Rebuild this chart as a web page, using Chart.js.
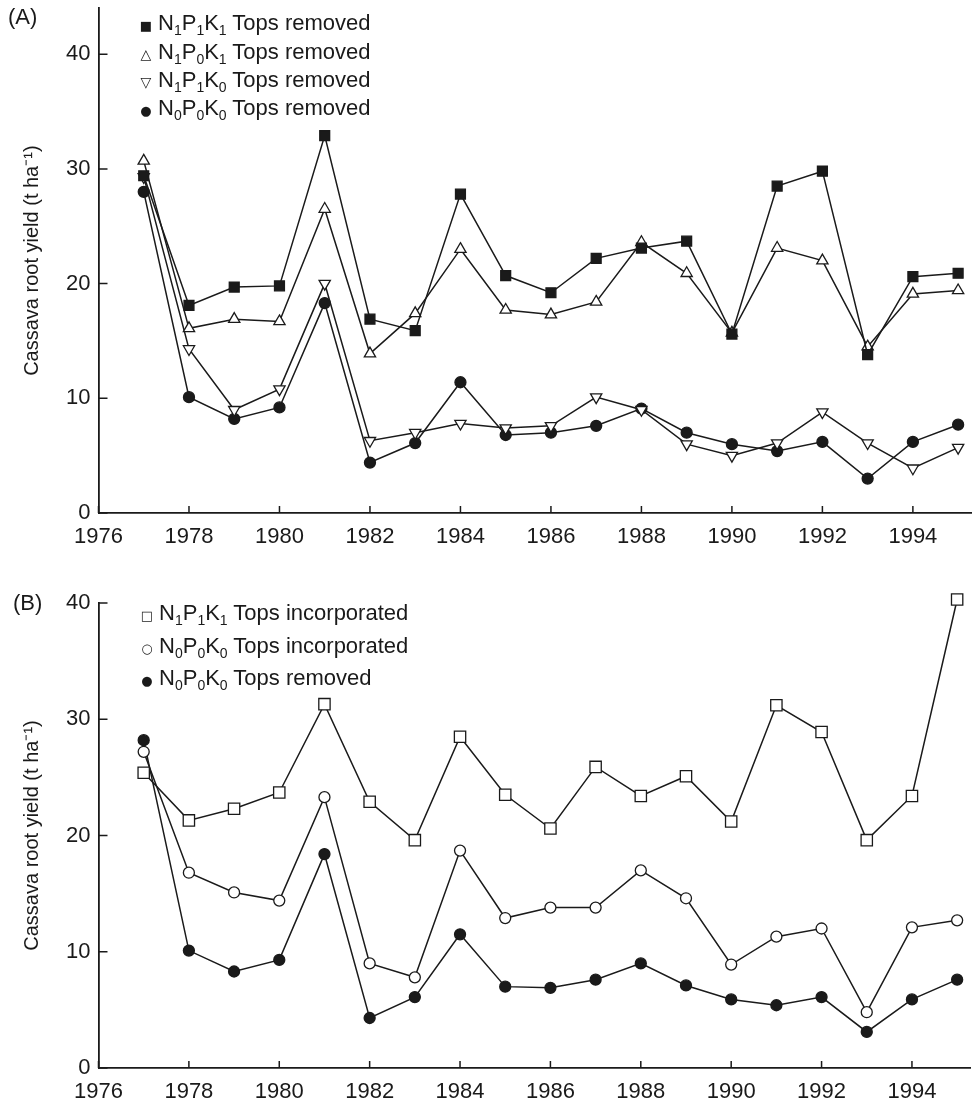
<!DOCTYPE html>
<html>
<head>
<meta charset="utf-8">
<script src="https://cdn.jsdelivr.net/npm/chart.js@4.4.1/dist/chart.umd.min.js"></script>
<style>
  html, body { margin: 0; padding: 0; background: #fff; }
  body { width: 980px; height: 1101px; position: relative; overflow: hidden;
         font-family: "Liberation Sans", Arial, sans-serif; color: #1a1a1a; }
  canvas { position: absolute; left: 0; }
  #chartA { top: 0; }
  #chartB { top: 560px; }
  .tag { position: absolute; font-size: 22px; line-height: 22px; }
  .row { position: absolute; font-size: 22px; line-height: 26px; white-space: nowrap; }
  .row .mk { display: inline-block; width: 16px; text-align: center; font-family: "DejaVu Sans"; margin-right: 4px; }
  .row sub { font-size: 14px; vertical-align: -5px; line-height: 0; }
</style>
</head>
<body>

<canvas id="chartA" width="980" height="560"></canvas>
<canvas id="chartB" width="980" height="541"></canvas>

<div class="tag" style="left:8px; top:6px;">(A)</div>
<div class="tag" style="left:13px; top:592px;">(B)</div>

<div class="row" style="left:138px; top:10px;"><span class="mk" style="font-size:13px;">■</span>N<sub>1</sub>P<sub>1</sub>K<sub>1</sub> Tops removed</div>
<div class="row" style="left:138px; top:39px;"><span class="mk" style="font-size:14px;">△</span>N<sub>1</sub>P<sub>0</sub>K<sub>1</sub> Tops removed</div>
<div class="row" style="left:138px; top:67px;"><span class="mk" style="font-size:14px;">▽</span>N<sub>1</sub>P<sub>1</sub>K<sub>0</sub> Tops removed</div>
<div class="row" style="left:138px; top:95px;"><span class="mk" style="font-size:13px;">●</span>N<sub>0</sub>P<sub>0</sub>K<sub>0</sub> Tops removed</div>

<div class="row" style="left:139px; top:600px;"><span class="mk" style="font-size:13px;">□</span>N<sub>1</sub>P<sub>1</sub>K<sub>1</sub> Tops incorporated</div>
<div class="row" style="left:139px; top:633px;"><span class="mk" style="font-size:13px;">○</span>N<sub>0</sub>P<sub>0</sub>K<sub>0</sub> Tops incorporated</div>
<div class="row" style="left:139px; top:665px;"><span class="mk" style="font-size:13px;">●</span>N<sub>0</sub>P<sub>0</sub>K<sub>0</sub> Tops removed</div>

<script>
// ---- data (t/ha) ----
const years = [1977, 1978, 1979, 1980, 1981, 1982, 1983, 1984, 1985, 1986,
               1987, 1988, 1989, 1990, 1991, 1992, 1993, 1994, 1995];
const yearTicks = [1976, 1978, 1980, 1982, 1984, 1986, 1988, 1990, 1992, 1994];
const yieldTicks = [0, 10, 20, 30, 40];

// panel A: tops removed
const npkRemoved   = [29.4, 18.1, 19.7, 19.8, 32.9, 16.9, 15.9, 27.8, 20.7, 19.2,
                      22.2, 23.1, 23.7, 15.6, 28.5, 29.8, 13.8, 20.6, 20.9];
const npk0Removed  = [30.7, 16.1, 16.9, 16.7, 26.5, 13.9, 17.4, 23.0, 17.7, 17.3,
                      18.4, 23.6, 20.9, 15.7, 23.1, 22.0, 14.5, 19.1, 19.4];
const nppk0Removed = [29.3, 14.3, 9.0, 10.8, 20.0, 6.3, 7.0, 7.8, 7.4, 7.6,
                      10.1, 9.0, 6.0, 5.0, 6.1, 8.8, 6.1, 3.9, 5.7];
const controlRemovedA = [28.0, 10.1, 8.2, 9.2, 18.3, 4.4, 6.1, 11.4, 6.8, 7.0,
                         7.6, 9.1, 7.0, 6.0, 5.4, 6.2, 3.0, 6.2, 7.7];

// panel B: tops incorporated vs removed
const npkIncorp     = [25.4, 21.3, 22.3, 23.7, 31.3, 22.9, 19.6, 28.5, 23.5, 20.6,
                       25.9, 23.4, 25.1, 21.2, 31.2, 28.9, 19.6, 23.4, 40.3];
const controlIncorp = [27.2, 16.8, 15.1, 14.4, 23.3, 9.0, 7.8, 18.7, 12.9, 13.8,
                       13.8, 17.0, 14.6, 8.9, 11.3, 12.0, 4.8, 12.1, 12.7];
const controlRemovedB = [28.2, 10.1, 8.3, 9.3, 18.4, 4.3, 6.1, 11.5, 7.0, 6.9,
                         7.6, 9.0, 7.1, 5.9, 5.4, 6.1, 3.1, 5.9, 7.6];

const INK = '#1a1a1a';
const FONT = "'Liberation Sans', Arial, sans-serif";

function points(values) {
    return years.map((yr, i) => ({ x: yr, y: values[i] }));
}

function series(label, values, style) {
    return Object.assign({
        label: label,
        data: points(values),
        borderColor: INK,
        borderWidth: 1.5,
        pointBorderColor: INK,
        pointBorderWidth: 1.3,
        tension: 0,
        clip: false
    }, style);
}

// ticks drawn inward from the axis lines
const inwardTicks = {
    id: 'inwardTicks',
    afterDatasetsDraw(chart) {
        const { ctx, chartArea, scales } = chart;
        ctx.save();
        ctx.strokeStyle = INK;
        ctx.lineWidth = 1.5;
        ctx.beginPath();
        scales.x.ticks.forEach(t => {
            const px = scales.x.getPixelForValue(t.value);
            ctx.moveTo(px, chartArea.bottom);
            ctx.lineTo(px, chartArea.bottom - 7);
        });
        scales.y.ticks.forEach(t => {
            const py = scales.y.getPixelForValue(t.value);
            ctx.moveTo(chartArea.left, py);
            ctx.lineTo(chartArea.left + 9, py);
        });
        ctx.stroke();
        ctx.restore();
    }
};

function makeOptions(yMax, padTop, xHeight) {
    return {
        responsive: false,
        animation: false,
        layout: { padding: { top: padTop, right: 2, left: 0, bottom: 0 } },
        plugins: { legend: { display: false }, tooltip: { enabled: false } },
        scales: {
            x: {
                type: 'linear',
                min: 1976,
                max: 1995.3,
                afterBuildTicks: s => { s.ticks = yearTicks.map(v => ({ value: v })); },
                afterFit: s => { s.height = xHeight; s.paddingLeft = 0; s.paddingRight = 0; },
                ticks: {
                    padding: 11,
                    color: INK,
                    font: { family: FONT, size: 22 },
                    maxRotation: 0,
                    autoSkip: false,
                    callback: v => String(v)
                },
                grid: { drawOnChartArea: false, drawTicks: false },
                border: { color: INK, width: 1.8 }
            },
            y: {
                min: 0,
                max: yMax,
                afterBuildTicks: s => { s.ticks = yieldTicks.map(v => ({ value: v })); },
                afterFit: s => { s.width = 98.5; s.paddingTop = 0; s.paddingBottom = 0; },
                ticks: {
                    padding: 8,
                    color: INK,
                    font: { family: FONT, size: 22 }
                },
                grid: { drawOnChartArea: false, drawTicks: false },
                border: { color: INK, width: 1.8 },
                title: {
                    display: true,
                    text: 'Cassava root yield (t ha\u207B\u00B9)',
                    color: INK,
                    font: { family: FONT, size: 20 },
                    padding: { top: 20, bottom: 0 }
                }
            }
        }
    };
}

new Chart(document.getElementById('chartA'), {
    type: 'line',
    data: {
        datasets: [
            series('N1P1K1 Tops removed', npkRemoved,
                { pointStyle: 'rect', pointRadius: 7, pointBackgroundColor: INK }),
            series('N1P0K1 Tops removed', npk0Removed,
                { pointStyle: 'triangle', pointRadius: 6.5, pointBackgroundColor: '#fff' }),
            series('N1P1K0 Tops removed', nppk0Removed,
                { pointStyle: 'triangle', pointRotation: 180, pointRadius: 6.5, pointBackgroundColor: '#fff' }),
            series('N0P0K0 Tops removed', controlRemovedA,
                { pointStyle: 'circle', pointRadius: 5.5, pointBackgroundColor: INK })
        ]
    },
    options: makeOptions(44, 7, 47),
    plugins: [inwardTicks]
});

new Chart(document.getElementById('chartB'), {
    type: 'line',
    data: {
        datasets: [
            series('N1P1K1 Tops incorporated', npkIncorp,
                { pointStyle: 'rect', pointRadius: 8, pointBackgroundColor: '#fff' }),
            series('N0P0K0 Tops incorporated', controlIncorp,
                { pointStyle: 'circle', pointRadius: 5.5, pointBackgroundColor: '#fff' }),
            series('N0P0K0 Tops removed', controlRemovedB,
                { pointStyle: 'circle', pointRadius: 5.5, pointBackgroundColor: INK })
        ]
    },
    options: makeOptions(40, 43, 33),
    plugins: [inwardTicks]
});
</script>
</body>
</html>
